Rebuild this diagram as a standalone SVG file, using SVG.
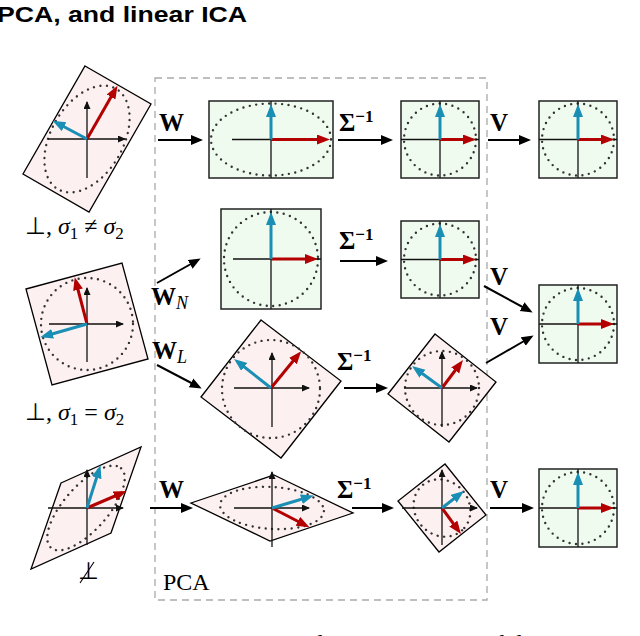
<svg xmlns="http://www.w3.org/2000/svg" width="640" height="636" viewBox="0 0 640 636">
<defs>
<style>
.pk{fill:#fdf0f0;stroke:#000;stroke-width:1.3}
.gr{fill:#f0fbf0;stroke:#222;stroke-width:1.5}
.dot{fill:none;stroke:#333;stroke-width:2.4;stroke-linecap:round;stroke-dasharray:0 6.5}
.ax{stroke:#111;stroke-width:1.3;fill:none}
.axh{stroke:#111;stroke-width:1.3;fill:none;marker-end:url(#ah)}
.r{stroke:#b30000;stroke-width:3;marker-end:url(#rh)}
.b{stroke:#1a8fb5;stroke-width:3;marker-end:url(#bh)}
.c{stroke:#000;stroke-width:2;marker-end:url(#ch)}
.lb{font-family:"Liberation Serif",serif;font-weight:bold;font-size:25px}
.sm{font-family:"Liberation Serif",serif;font-size:24px}
</style>
<marker id="ah" markerUnits="userSpaceOnUse" markerWidth="9" markerHeight="8" refX="7" refY="3.5" orient="auto"><path d="M0,0L8,3.5L0,7z" fill="#111"/></marker>
<marker id="rh" markerUnits="userSpaceOnUse" markerWidth="14" markerHeight="12" refX="8" refY="5" orient="auto"><path d="M0,0L13,5L0,10z" fill="#b30000"/></marker>
<marker id="bh" markerUnits="userSpaceOnUse" markerWidth="14" markerHeight="12" refX="8" refY="5" orient="auto"><path d="M0,0L13,5L0,10z" fill="#1a8fb5"/></marker>
<marker id="ch" markerUnits="userSpaceOnUse" markerWidth="14" markerHeight="12" refX="9" refY="5" orient="auto"><path d="M0,0L12,5L0,10z" fill="#000"/></marker>
</defs>
<rect width="640" height="636" fill="#fff"/>
<text x="-3" y="22" font-family="Liberation Sans,sans-serif" font-weight="bold" font-size="22" textLength="250" lengthAdjust="spacingAndGlyphs">PCA, and linear ICA</text>
<rect x="155" y="78" width="332" height="522" fill="none" stroke="#aaa" stroke-width="1.3" stroke-dasharray="7 5"/>
<text x="163" y="590" class="sm">PCA</text>

<g id="in1">
<polygon class="pk" points="-1,-1 1,-1 1,1 -1,1" transform="matrix(33 19 -31 54 87 139)" vector-effect="non-scaling-stroke"/>
<ellipse class="dot" cx="87" cy="139" rx="36" ry="58" transform="rotate(30 87 139)"/>
<line class="axh" x1="48" y1="139" x2="125" y2="139"/><line class="axh" x1="87" y1="178" x2="87" y2="102"/>
<line class="r" x1="87" y1="139" x2="115" y2="90"/><line class="b" x1="87" y1="139" x2="57" y2="123"/>
</g>
<text x="25" y="234" class="sm">⊥, <tspan font-style="italic">σ</tspan><tspan font-size="17" dy="5">1</tspan><tspan dy="-5"> ≠ </tspan><tspan font-style="italic">σ</tspan><tspan font-size="17" dy="5">2</tspan></text>

<g id="in2">
<polygon class="pk" points="-1,-1 1,-1 1,1 -1,1" transform="matrix(48 -13 13 48 87 324)" vector-effect="non-scaling-stroke"/>
<circle class="dot" cx="87" cy="324" r="46"/>
<line class="axh" x1="49" y1="324" x2="123" y2="324"/><line class="axh" x1="87" y1="362" x2="87" y2="288"/>
<line class="r" x1="87" y1="324" x2="76" y2="282"/><line class="b" x1="87" y1="324" x2="45" y2="336"/>
</g>
<text x="25" y="420" class="sm">⊥, <tspan font-style="italic">σ</tspan><tspan font-size="17" dy="5">1</tspan><tspan dy="-5"> = </tspan><tspan font-style="italic">σ</tspan><tspan font-size="17" dy="5">2</tspan></text>

<g id="in3">
<polygon class="pk" points="-1,-1 1,-1 1,1 -1,1" transform="matrix(40 -18 -15 43 86 508)" vector-effect="non-scaling-stroke"/>
<ellipse class="dot" cx="86" cy="508" rx="53" ry="22" transform="rotate(-48.6 86 508)"/>
<line class="axh" x1="48" y1="508" x2="123" y2="508"/><line class="axh" x1="87" y1="545" x2="87" y2="470"/>
<line class="r" x1="87" y1="508" x2="122" y2="493"/><line class="b" x1="87" y1="508" x2="99" y2="470"/>
</g>
<text x="78" y="579" class="sm">⊥</text><line x1="80" y1="583" x2="94" y2="562" stroke="#000" stroke-width="1.1"/>

<g id="g1">
<rect class="gr" x="209" y="101" width="124" height="77"/>
<ellipse class="dot" cx="271" cy="139.5" rx="60" ry="36"/>
<line class="ax" x1="232" y1="139.5" x2="310" y2="139.5"/><line class="ax" x1="271" y1="101" x2="271" y2="178"/>
<line class="r" x1="271" y1="139.5" x2="325" y2="139.5"/><line class="b" x1="271" y1="139.5" x2="271" y2="109"/>
</g>
<g id="g2">
<rect class="gr" x="401" y="101" width="78" height="77"/>
<circle class="dot" cx="440" cy="139.5" r="36"/>
<line class="ax" x1="401" y1="139.5" x2="479" y2="139.5"/><line class="ax" x1="440" y1="101" x2="440" y2="178"/>
<line class="r" x1="440" y1="139.5" x2="471" y2="139.5"/><line class="b" x1="440" y1="139.5" x2="440" y2="109"/>
</g>
<g id="g3">
<rect class="gr" x="539" y="101" width="78" height="77"/>
<circle class="dot" cx="578" cy="139.5" r="36"/>
<line class="ax" x1="539" y1="139.5" x2="617" y2="139.5"/><line class="ax" x1="578" y1="101" x2="578" y2="178"/>
<line class="r" x1="578" y1="139.5" x2="609" y2="139.5"/><line class="b" x1="578" y1="139.5" x2="578" y2="109"/>
</g>
<g id="g4">
<rect class="gr" x="221" y="209" width="100" height="100"/>
<circle class="dot" cx="271" cy="259" r="47"/>
<line class="ax" x1="233" y1="259" x2="321" y2="259"/><line class="ax" x1="271" y1="209" x2="271" y2="309"/>
<line class="r" x1="271" y1="259" x2="313" y2="259"/><line class="b" x1="271" y1="259" x2="271" y2="217"/>
</g>
<g id="g5">
<rect class="gr" x="401" y="221" width="78" height="77"/>
<circle class="dot" cx="440" cy="259.5" r="36"/>
<line class="ax" x1="401" y1="259.5" x2="479" y2="259.5"/><line class="ax" x1="440" y1="221" x2="440" y2="298"/>
<line class="r" x1="440" y1="259.5" x2="471" y2="259.5"/><line class="b" x1="440" y1="259.5" x2="440" y2="229"/>
</g>
<g id="g6">
<rect class="gr" x="539" y="285" width="78" height="78"/>
<circle class="dot" cx="578" cy="324" r="36"/>
<line class="ax" x1="539" y1="324" x2="617" y2="324"/><line class="ax" x1="578" y1="285" x2="578" y2="363"/>
<line class="r" x1="578" y1="324" x2="609" y2="324"/><line class="b" x1="578" y1="324" x2="578" y2="293"/>
</g>
<g id="g7">
<rect class="gr" x="539" y="469" width="78" height="78"/>
<circle class="dot" cx="578" cy="508" r="36"/>
<line class="ax" x1="539" y1="508" x2="617" y2="508"/><line class="ax" x1="578" y1="469" x2="578" y2="547"/>
<line class="r" x1="578" y1="508" x2="609" y2="508"/><line class="b" x1="578" y1="508" x2="578" y2="477"/>
</g>

<g id="d1">
<polygon class="pk" points="-1,-1 1,-1 1,1 -1,1" transform="matrix(40 30.5 -30 38.5 271 389)" vector-effect="non-scaling-stroke"/>
<circle class="dot" cx="271" cy="389" r="49"/>
<line class="axh" x1="234" y1="388" x2="309" y2="388"/><line class="axh" x1="272" y1="427" x2="272" y2="353"/>
<line class="r" x1="271" y1="388" x2="298" y2="355"/><line class="b" x1="271" y1="388" x2="238" y2="362"/>
</g>
<g id="d2">
<polygon class="pk" points="-1,-1 1,-1 1,1 -1,1" transform="matrix(30.5 24 -23.5 30 442 388)" vector-effect="non-scaling-stroke"/>
<circle class="dot" cx="442" cy="388" r="37"/>
<line class="axh" x1="404" y1="388" x2="477" y2="388"/><line class="axh" x1="442" y1="427" x2="442" y2="352"/>
<line class="r" x1="442" y1="388" x2="460" y2="364"/><line class="b" x1="442" y1="388" x2="416" y2="369"/>
</g>
<g id="d3">
<polygon class="pk" points="-1,-1 1,-1 1,1 -1,1" transform="matrix(39.5 19 -41.5 14 272 508)" vector-effect="non-scaling-stroke"/>
<ellipse class="dot" cx="272" cy="508" rx="52" ry="21" transform="rotate(3.5 272 508)"/>
<line class="axh" x1="234" y1="508" x2="309" y2="508"/><line class="axh" x1="272" y1="547" x2="272" y2="472"/>
<line class="r" x1="272" y1="508" x2="305" y2="525"/><line class="b" x1="272" y1="508" x2="309" y2="497"/>
</g>
<g id="d4">
<polygon class="pk" points="-1,-1 1,-1 1,1 -1,1" transform="matrix(20.5 25.5 -23.5 18.5 442 508)" vector-effect="non-scaling-stroke"/>
<ellipse class="dot" cx="442" cy="508" rx="30" ry="27" transform="rotate(48 442 508)"/>
<line class="axh" x1="402" y1="508" x2="477" y2="508"/><line class="axh" x1="442" y1="545" x2="442" y2="470"/>
<line class="r" x1="442" y1="508" x2="458" y2="530"/><line class="b" x1="442" y1="508" x2="460" y2="494"/>
</g>

<g id="connectors">
<line class="c" x1="158" y1="140" x2="200" y2="140"/>
<line class="c" x1="338" y1="140" x2="390" y2="140"/>
<line class="c" x1="488" y1="140" x2="528" y2="140"/>
<line class="c" x1="157" y1="283" x2="198" y2="260"/>
<line class="c" x1="340" y1="261" x2="385" y2="261"/>
<line class="c" x1="484" y1="286" x2="530" y2="311"/>
<line class="c" x1="157" y1="365" x2="199" y2="387"/>
<line class="c" x1="344" y1="388" x2="385" y2="388"/>
<line class="c" x1="486" y1="363" x2="531" y2="337"/>
<line class="c" x1="150" y1="508" x2="190" y2="508"/>
<line class="c" x1="352" y1="508" x2="391" y2="508"/>
<line class="c" x1="490" y1="508" x2="531" y2="508"/>
</g>
<g id="labels">
<text x="159" y="131" class="lb">W</text>
<text x="339" y="131" class="lb">Σ<tspan font-size="17" dy="-9">−1</tspan></text>
<text x="490" y="131" class="lb">V</text>
<text x="151" y="305" class="lb">W<tspan font-weight="normal" font-style="italic" font-size="18" dy="4">N</tspan></text>
<text x="339" y="249" class="lb">Σ<tspan font-size="17" dy="-9">−1</tspan></text>
<text x="490" y="285" class="lb">V</text>
<text x="490" y="335" class="lb">V</text>
<text x="152" y="359" class="lb">W<tspan font-weight="normal" font-style="italic" font-size="18" dy="4">L</tspan></text>
<text x="337" y="370" class="lb">Σ<tspan font-size="17" dy="-9">−1</tspan></text>
<text x="159" y="498" class="lb">W</text>
<text x="337" y="498" class="lb">Σ<tspan font-size="17" dy="-9">−1</tspan></text>
<text x="490" y="498" class="lb">V</text>
</g>
<text x="0" y="651" font-family="Liberation Serif,serif" font-size="23" textLength="640">Figure 2: Linear PCA, nonlinear PCA, and linear ICA</text>
</svg>
